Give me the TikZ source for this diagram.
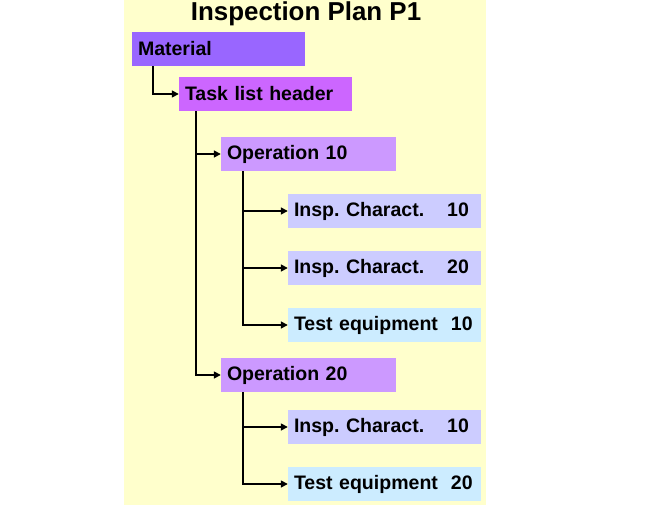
\documentclass[tikz,border=0pt]{standalone}
\usepackage{fontspec}
\setmainfont{Liberation Sans}
\usepackage{xcolor}
\usetikzlibrary{arrows.meta}
\frenchspacing

\definecolor{bgyellow}{HTML}{FFFFCC}
\definecolor{matcol}{HTML}{9966FF}
\definecolor{taskcol}{HTML}{CC66FF}
\definecolor{opcol}{HTML}{CC99FF}
\definecolor{charcol}{HTML}{CCCCFF}
\definecolor{equipcol}{HTML}{CCECFF}

\begin{document}
\begin{tikzpicture}[
    x=1bp, y=-1bp,
    font=\bfseries\fontsize{19.6}{23}\selectfont,
    box/.style={rectangle, inner sep=0pt, inner xsep=6bp, minimum height=34bp, align=left},
    matbox/.style={box, fill=matcol, text width=161bp},
    taskbox/.style={box, fill=taskcol, text width=161bp},
    opbox/.style={box, fill=opcol, text width=163bp},
    charbox/.style={box, fill=charcol, text width=181bp},
    equipbox/.style={box, fill=equipcol, text width=181bp},
    arr/.style={-{Triangle[length=7bp, width=7bp]}, line width=1.6bp}
]

\useasboundingbox (0,0) rectangle (654,505);
\fill[bgyellow] (124,0) rectangle (486,505);

\node[anchor=base, font=\bfseries\fontsize{26}{30}\selectfont] (title) at (306,21) {Inspection Plan P1};

\node[matbox] (material) at (218.5,49) {Material};
\node[taskbox] (task) at (265.5,94) {Task list header};

\node[opbox] (op10) at (308.5,154) {Operation 10};
\node[charbox] (ch11) at (384.5,211) {Insp. Charact.\hspace{23bp}10};
\node[charbox] (ch12) at (384.5,268) {Insp. Charact.\hspace{23bp}20};
\node[equipbox] (eq11) at (384.5,325) {Test equipment\hspace{13bp}10};

\node[opbox] (op20) at (308.5,375) {Operation 20};
\node[charbox] (ch21) at (384.5,427) {Insp. Charact.\hspace{23bp}10};
\node[equipbox] (eq21) at (384.5,484) {Test equipment\hspace{13bp}20};

\draw[arr] ([xshift=21bp]material.south west) |- (task.west);
\foreach \o in {op10,op20}
  \draw[arr] ([xshift=17bp]task.south west) |- (\o.west);
\foreach \c in {ch11,ch12,eq11}
  \draw[arr] ([xshift=22bp]op10.south west) |- (\c.west);
\foreach \c in {ch21,eq21}
  \draw[arr] ([xshift=22bp]op20.south west) |- (\c.west);

\end{tikzpicture}
\end{document}
